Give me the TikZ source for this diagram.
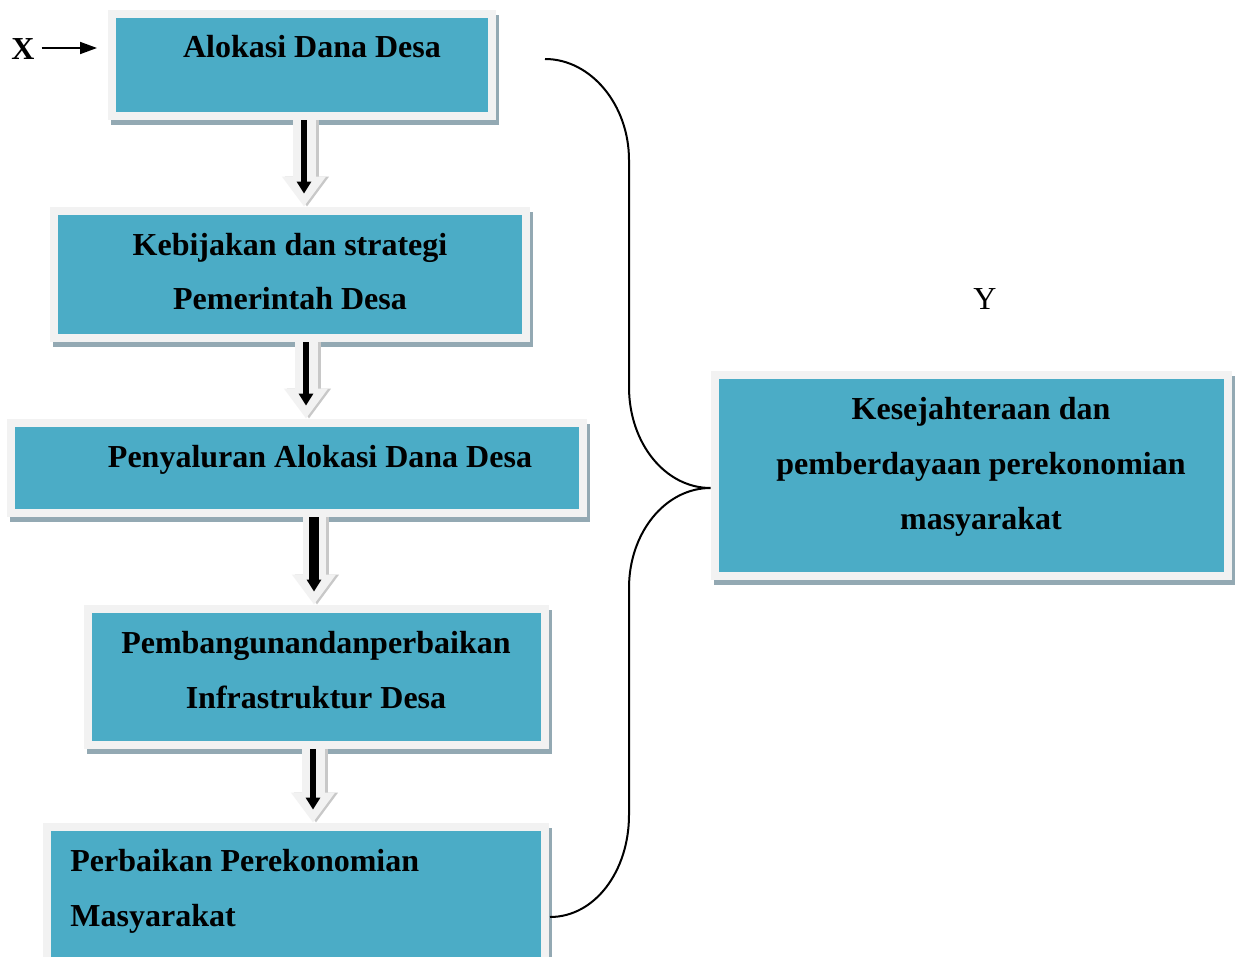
\documentclass[tikz,border=0pt]{standalone}
\usepackage{fontspec}
\setmainfont{Liberation Serif}
\usetikzlibrary{arrows.meta,shadows}
\definecolor{BoxBlue}{HTML}{4BACC6}
\definecolor{FrameGray}{HTML}{F2F2F2}
\definecolor{ShadowBlue}{HTML}{93A9B3}
\definecolor{ArrowShade}{HTML}{C8C8C8}

\begin{document}
\begin{tikzpicture}[
      x=0.5pt, y=-0.5pt,
      box/.style={fill=FrameGray, inner sep=0pt,
        drop shadow={shadow xshift=1.5pt, shadow yshift=-2.5pt, fill=ShadowBlue, opacity=1},
        path picture={\fill[BoxBlue] ([shift={(4pt,4pt)}]path picture bounding box.south west)
          rectangle ([shift={(-4pt,-4pt)}]path picture bounding box.north east);}},
      txt/.style={font=\bfseries\fontsize{16}{27.5}\selectfont, align=center, anchor=base, inner sep=0pt},
      blockshade/.style={line width=11.5pt, draw=ArrowShade, -{Triangle[width=21pt,length=15pt]}},
      blockbody/.style={line width=11.5pt, draw=FrameGray, -{Triangle[width=21pt,length=15pt]}},
      thinarrow/.style={line width=#1, -{Triangle[width=7pt,length=6pt]}, shorten >=6.5pt}
    ]
      \useasboundingbox (0,0) rectangle (1237,957);
      \fill[white] (0,0) rectangle (1237,957);

      % boxes
      \node[box, minimum width=194pt, minimum height=55pt] (alokasi) at (302,65) {};
      \node[box, minimum width=240pt, minimum height=67.5pt] (kebijakan) at (290,274.5) {};
      \node[box, minimum width=290pt, minimum height=49pt] (penyaluran) at (297,468) {};
      \node[box, minimum width=232.5pt, minimum height=72pt] (pembangunan) at (316.5,677) {};
      \node[box, minimum width=253pt, minimum height=71pt] (perbaikan) at (296,894) {};
      \node[box, minimum width=260.5pt, minimum height=104.5pt] (sejahtera) at (971.5,475.5) {};

      % texts (anchored at the baseline of the last line)
      \node[txt] (t-alokasi) at (312,58) {Alokasi Dana Desa};
      \node[txt] (t-kebijakan) at (290,310) {Kebijakan dan strategi\\Pemerintah Desa};
      \node[txt] (t-penyaluran) at (320,467) {Penyaluran Alokasi Dana Desa};
      \node[txt] (t-pembangunan) at (316,708) {Pembangunandanperbaikan\\Infrastruktur Desa};
      \node[txt, align=left, anchor=base west] (t-perbaikan) at (70,926) {Perbaikan Perekonomian\\Masyarakat};
      \node[txt] (t-sejahtera) at (981,529) {Kesejahteraan dan\\pemberdayaan perekonomian\\masyarakat};

      % X and Y
      \node[font=\bfseries\fontsize{16}{19}\selectfont, anchor=base] (xlbl) at (23,60) {X};
      \node[font=\fontsize{16}{19}\selectfont, anchor=base] (ylbl) at (985,310) {Y};
      \coordinate (xin) at (97,48);
      \draw[-{Triangle[width=6pt,length=8.5pt]}, line width=0.9pt] (xlbl.east |- xin) -- (xin);

      % block arrows
      \foreach \from/\to/\ax/\lw in {alokasi/kebijakan/304/3pt, kebijakan/penyaluran/306/2.6pt,
          penyaluran/pembangunan/314/5pt, pembangunan/perbaikan/313/3pt}{
        \coordinate (ax) at (\ax,0);
        \coordinate (axs) at (\ax+3,0);
        \draw[blockshade] (\from.south -| axs) -- (\to.north -| axs);
        \draw[blockbody] (\from.south -| ax) -- (\to.north -| ax);
        \draw[thinarrow=\lw] (\from.south -| ax) -- (\to.north -| ax);
      }

      % brace
      \coordinate (brace-top) at (545,59);
      \coordinate (brace-bot) at (550,917);
      \coordinate (brace-tip) at ([yshift=-6.25pt]sejahtera.west);
      \draw[line width=1pt] (brace-top) .. controls (591,59) and (629,105) .. (629,160)
        -- (629,387) .. controls (629,443) and (665,488) .. (brace-tip)
        .. controls (665,488) and (629,533) .. (629,588)
        -- (629,815) .. controls (629,871) and (595,917) .. (brace-bot);
    \end{tikzpicture}
\end{document}
